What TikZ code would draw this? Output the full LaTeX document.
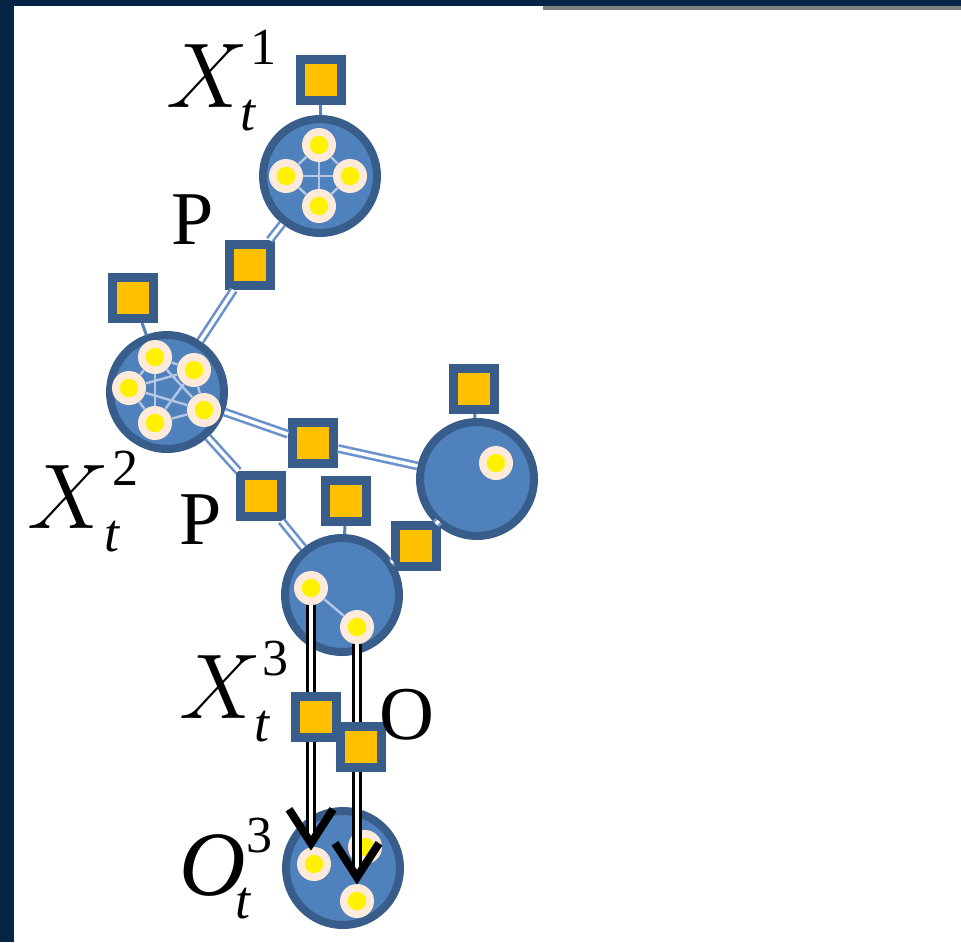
\documentclass[tikz,border=0pt]{standalone}
\usepackage{fix-cm}
\usepackage{fontspec}
\setmainfont{Liberation Serif}
\usetikzlibrary{arrows.meta,positioning}
\definecolor{cfill}{RGB}{79,129,189}
\definecolor{cborder}{RGB}{56,93,138}
\definecolor{corange}{RGB}{255,192,0}
\definecolor{ccream}{RGB}{253,234,218}
\definecolor{cpale}{RGB}{180,199,231}
\definecolor{cedge}{RGB}{105,145,205}
\definecolor{cnavy}{RGB}{6,36,68}
\definecolor{cgray}{RGB}{128,128,128}
\tikzset{
  varnode/.style={circle, draw=cborder, line width=4pt, fill=cfill, minimum size=57pt, inner sep=0pt},
  factor/.style={rectangle, draw=cborder, line width=4.5pt, fill=corange, minimum size=20.5pt, inner sep=0pt},
  dot/.style={circle, fill=ccream, minimum size=17pt, inner sep=0pt,
    path picture={\fill[yellow] (path picture bounding box.center) circle (4.6pt);}},
  link/.style={draw=cedge, double=white, line width=1.3pt, double distance=1.8pt},
  obsline/.style={draw=cfill, line width=1.5pt},
  innerline/.style={draw=cpale, line width=1.2pt},
  obsarrow/.style={draw=black, double=white, line width=1.5pt, double distance=1.6pt,
    -{Straight Barb[length=17pt, width=22pt, line width=4pt]}},
  lbl/.style={inner sep=0pt, anchor=base west, font=\fontsize{38}{38}\selectfont}
}
% letter with superscript and subscript t
\newcommand\varsym[4]{%
  \rlap{\fontsize{46}{46}\selectfont #1}%
  \rlap{\hspace*{#3}\raisebox{21.5pt}{\fontsize{26}{26}\selectfont #2}}%
  \hspace*{#4}\raisebox{-11.5pt}{\fontsize{27}{27}\selectfont\itshape t}}

\begin{document}
\begin{tikzpicture}[x=0.5pt, y=-0.5pt]
  % frame
  \fill[white] (0,0) rectangle (961,942);
  \fill[cnavy] (0,0) rectangle (961,6);
  \fill[cnavy] (0,0) rectangle (14,942);
  \fill[cgray] (543,6) rectangle (961,10);

  % variables
  \node[varnode] (x1) at (320,176) {};
  \node[varnode] (x2) at (167,392) {};
  \node[varnode] (x4) at (477,479) {};
  \node[varnode] (x3) at (342,595) {};
  \node[varnode] (o3) at (343,868) {};

  % factors
  \node[factor] (f1) at (321,80) {};
  \node[factor] (f2) at (133,298) {};
  \node[factor] (f4) at (474,389) {};
  \node[factor] (f3) at (346,501) {};
  \node[factor] (p12) at (250,265) {};
  \node[factor] (p24) at (313,443) {};
  \node[factor] (p23) at (261,496) {};
  \node[factor] (p34) at (416,546) {};

  \draw[link] (x2) -- (p12);
  \draw[link] (p12) -- (x1);
  \draw[link] (x2) -- (p24);
  \draw[link] (p24) -- (x4);
  \draw[link] (x2) -- (p23);
  \draw[link] (p23) -- (x3);
  \draw[link] (x3) -- (p34);
  \draw[link] (p34) -- (x4);

  \draw[obsline] (f1) -- (x1);
  \draw[obsline] (f2) -- (x2);
  \draw[obsline] (f4) -- (x4);
  \draw[obsline] (f3) -- (x3);

  % particles
  \node[dot] (x1a) at (319,145) {};
  \node[dot] (x1b) at (286,176) {};
  \node[dot] (x1c) at (350,176) {};
  \node[dot] (x1d) at (319,206) {};
  \foreach \u/\v in {a/b,a/c,a/d,b/c,b/d,c/d}
    \draw[innerline] (x1\u) -- (x1\v);

  \node[dot] (x2a) at (155,357) {};
  \node[dot] (x2b) at (194,370) {};
  \node[dot] (x2c) at (129,388) {};
  \node[dot] (x2d) at (155,423) {};
  \node[dot] (x2e) at (204,410) {};
  \foreach \u/\v in {a/b,a/c,a/d,a/e,b/c,b/d,b/e,c/d,c/e,d/e}
    \draw[innerline] (x2\u) -- (x2\v);

  \node[dot] (x4a) at (496,463) {};

  \node[dot] (x3a) at (311,588) {};
  \node[dot] (x3b) at (357,627) {};
  \draw[innerline] (x3a) -- (x3b);

  \node[dot] (o3a) at (314,864) {};
  \node[dot] (o3b) at (365,847) {};
  \node[dot] (o3c) at (357,901) {};

  \draw[obsarrow, shorten >=-2pt] (x3a.south) -- (x3a.south |- o3a.north);
  \draw[obsarrow, shorten >=-0.5pt] (x3b.south) -- (x3b.south |- o3c.north);

  \node[factor] (g1) at (316,717) {};
  \node[factor] (g2) at (361,747) {};

  % labels
  \node[lbl] (lx1) at (166,107) {\varsym{$X$}{1}{42pt}{37pt}};
  \node[lbl] (lx2) at (27,528) {\varsym{$X$}{2}{42.5pt}{38.5pt}};
  \node[lbl] (lx3) at (179,718) {\varsym{$X$}{3}{41.5pt}{37.5pt}};
  \node[lbl] (lo3) at (179,895) {\varsym{\itshape O}{3}{33.5pt}{28pt}};
  \node[lbl] (lp1) at (171,244) {P};
  \node[lbl] (lp2) at (179,544) {P};
  \node[lbl] (lo) at (379,739) {O};
\end{tikzpicture}
\end{document}
